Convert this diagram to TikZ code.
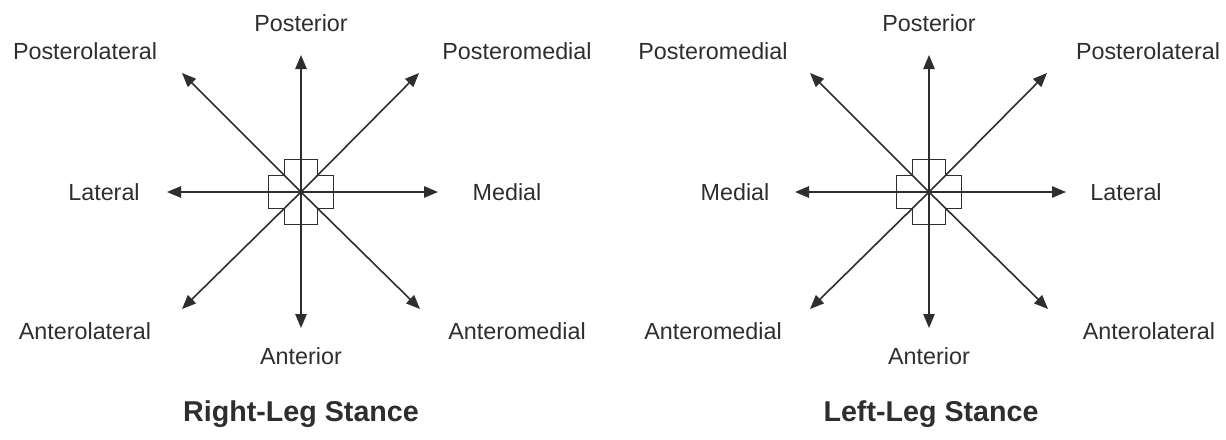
\documentclass[tikz,border=0pt]{standalone}
\usepackage{fontspec}
\setmainfont{Liberation Sans}
\usetikzlibrary{
        arrows.meta,
        positioning
    }
\definecolor{ink}{HTML}{2E2E2E}
\tikzset{>={Triangle[length=10.5pt,width=8.5pt]},shorten >=0pt}
\tikzset{dirlabel/.style={font=\fontsize{17.5}{21}\selectfont,text=ink,inner sep=0pt}}
\tikzset{stancetitle/.style={font=\bfseries\fontsize{21.5}{25}\selectfont,text=ink,inner sep=0pt}}
\tikzset{hub/.style={draw=ink,line width=1.1pt}}

\begin{document}
\begin{tikzpicture}[x=0.75pt,y=-0.75pt,line width=1.2pt,draw=ink]
        \useasboundingbox (0,0) rectangle (1226,439);
        % right-leg stance
        \begin{scope}[shift={(301,192)}]
            \coordinate (rc) at (0,0);
            \draw[hub] (-16.5,-32.5) -- (16.5,-32.5) -- (16.5,-16.5) -- (32.5,-16.5) -- (32.5,16.5) -- (16.5,16.5)
                -- (16.5,32.5) -- (-16.5,32.5) -- (-16.5,16.5) -- (-32.5,16.5) -- (-32.5,-16.5) -- (-16.5,-16.5) -- cycle;
            \coordinate (rN) at (0,-137);
            \coordinate (rS) at (0,136);
            \coordinate (rW) at (-134,0);
            \coordinate (rE) at (137,0);
            \coordinate (rNW) at (-119,-119);
            \coordinate (rNE) at (118,-119);
            \coordinate (rSW) at (-119,117);
            \coordinate (rSE) at (119,117);
            \node[dirlabel] (rpost) at (0,-169) {Posterior};
            \node[dirlabel] (rant) at (0,164) {Anterior};
            \node[dirlabel] (rlat) at (-197,0) {Lateral};
            \node[dirlabel] (rmed) at (206,0) {Medial};
            \node[dirlabel] (rpl) at (-216,-141) {Posterolateral};
            \node[dirlabel] (rpm) at (216,-141) {Posteromedial};
            \node[dirlabel] (ral) at (-216,139) {Anterolateral};
            \node[dirlabel] (ram) at (216,139) {Anteromedial};
            \node[stancetitle] (rtitle) at (0,222) {Right-Leg Stance};
            \path[->]
                (rc) edge (rN)
                (rc) edge (rS)
                (rc) edge (rW)
                (rc) edge (rE)
                (rc) edge (rNW)
                (rc) edge (rNE)
                (rc) edge (rSW)
                (rc) edge (rSE)
            ;
        \end{scope}
        % left-leg stance
        \begin{scope}[shift={(929,192)}]
            \coordinate (lc) at (0,0);
            \draw[hub] (-16.5,-32.5) -- (16.5,-32.5) -- (16.5,-16.5) -- (32.5,-16.5) -- (32.5,16.5) -- (16.5,16.5)
                -- (16.5,32.5) -- (-16.5,32.5) -- (-16.5,16.5) -- (-32.5,16.5) -- (-32.5,-16.5) -- (-16.5,-16.5) -- cycle;
            \coordinate (lN) at (0,-137);
            \coordinate (lS) at (0,136);
            \coordinate (lW) at (-134,0);
            \coordinate (lE) at (137,0);
            \coordinate (lNW) at (-119,-119);
            \coordinate (lNE) at (118,-119);
            \coordinate (lSW) at (-119,117);
            \coordinate (lSE) at (119,117);
            \node[dirlabel] (lpost) at (0,-169) {Posterior};
            \node[dirlabel] (lant) at (0,164) {Anterior};
            \node[dirlabel] (lmed) at (-194,0) {Medial};
            \node[dirlabel] (llat) at (197,0) {Lateral};
            \node[dirlabel] (lpm) at (-216,-141) {Posteromedial};
            \node[dirlabel] (lpl) at (219,-141) {Posterolateral};
            \node[dirlabel] (lam) at (-216,139) {Anteromedial};
            \node[dirlabel] (lal) at (220,139) {Anterolateral};
            \node[stancetitle] (ltitle) at (2,222) {Left-Leg Stance};
            \path[->]
                (lc) edge (lN)
                (lc) edge (lS)
                (lc) edge (lW)
                (lc) edge (lE)
                (lc) edge (lNW)
                (lc) edge (lNE)
                (lc) edge (lSW)
                (lc) edge (lSE)
            ;
        \end{scope}
    \end{tikzpicture}
\end{document}
